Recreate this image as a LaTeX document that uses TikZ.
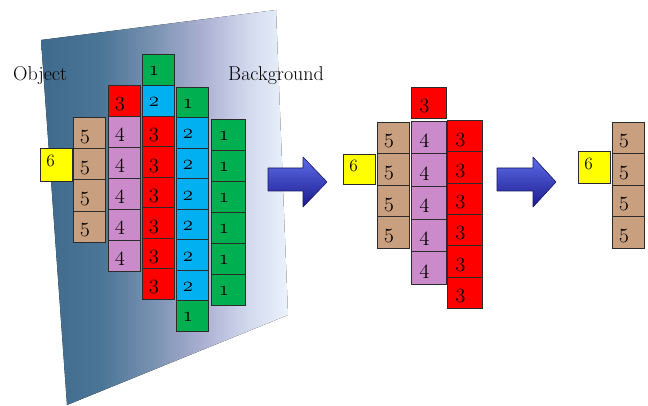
\documentclass[tikz,border=0pt]{standalone}
\usetikzlibrary{shadings}

% cell fills
\definecolor{cbrown}{HTML}{C9A07F}
\definecolor{cpurple}{HTML}{CB8BCB}
\definecolor{cred}{HTML}{FF0000}
\definecolor{cblue}{HTML}{00B0F0}
\definecolor{cgreen}{HTML}{00B050}
\definecolor{cyellow}{HTML}{FFFF00}
\definecolor{cedge}{HTML}{2B2B2B}
% plane gradient
\definecolor{pA}{HTML}{3F6A8C}
\definecolor{pB}{HTML}{4A7596}
\definecolor{pC}{HTML}{7690AF}
\definecolor{pD}{HTML}{A8ADCF}
\definecolor{pE}{HTML}{D2D9EE}
\definecolor{pF}{HTML}{EAF3FB}
% arrow colours
\definecolor{aTop}{HTML}{5E6CEA}
\definecolor{aMid}{HTML}{2F2FCF}
\definecolor{aBot}{HTML}{1A1A8C}
\definecolor{aEdge}{HTML}{181868}

\pgfdeclarehorizontalshading{planeshade}{100bp}{%
  color(0bp)=(pA); color(25bp)=(pA); color(37bp)=(pB);
  color(47bp)=(pC); color(57bp)=(pD); color(67bp)=(pE);
  color(75bp)=(pF); color(100bp)=(pF)}

% old-style digits for the cell numbers
\newcommand\cellfont{\fontsize{19.5}{20}\usefont{OML}{lmm}{m}{it}}
\newcommand\smallcellfont{\fontsize{18}{19}\usefont{OML}{lmm}{m}{it}}
\newcommand\cn[1]{\makebox[19pt][l]{\cellfont #1}}
\newcommand\cns[1]{\makebox[20pt][l]{\smallcellfont #1}}

\tikzset{
  cell/.style={draw=cedge, line width=0.9pt, inner sep=0pt,
    minimum width=32pt, minimum height=31pt,
    text height=12pt, text depth=0pt, anchor=north west},
  cone/.style={cell, fill=cgreen},
  ctwo/.style={cell, fill=cblue},
  cthree/.style={cell, fill=cred},
  cfour/.style={cell, fill=cpurple},
  cfive/.style={cell, fill=cbrown},
  csix/.style={cell, fill=cyellow, text height=3.6pt},
  lbl/.style={anchor=base west, inner sep=0pt, font=\fontsize{20}{24}\selectfont},
  fatarrow/.style={draw=aEdge, line width=0.6pt, top color=aTop,
    middle color=aMid, bottom color=aBot, line join=round}
}

\begin{document}
\begin{tikzpicture}[x=1pt, y=-1pt]
\useasboundingbox (0,0) rectangle (648,406);

% tilted plane separating object from background
\fill[shading=planeshade] (41,40) -- (276,10) -- (288,315) -- (67,405) -- cycle;

\node[lbl] (objlabel) at (13,81) {Object};
\node[lbl] (bglabel) at (228,81) {Background};

% ---------- full distance map ----------
\node[csix, minimum height=33pt] (a6) at (40,148) {\cns{6}};
\foreach \i in {0,...,3}
  \node[cfive, minimum height=31.2pt] (a5-\i) at (73,117+31.2*\i) {\cn{5}};
\node[cthree] (a3top) at (108,85) {\cn{3}};
\foreach \i in {0,...,4}
  \node[cfour] (a4-\i) at (108,116+31*\i) {\cn{4}};
\node[cone] (a1top) at (142,54) {\cn{1}};
\node[ctwo] (a2top) at (142,85) {\cn{2}};
\foreach \i in {0,...,5}
  \node[cthree] (a3-\i) at (142,116+30.4*\i) {\cn{3}};
\node[cone] (a1b) at (176,87) {\cn{1}};
\foreach \i in {0,...,5}
  \node[ctwo] (a2-\i) at (176,117+30.6*\i) {\cn{2}};
\node[cone] (a1bot) at (176,300) {\cn{1}};
\foreach \i in {0,...,5}
  \node[cone, minimum width=34pt] (a1-\i) at (211,119+31*\i) {\cn{1}};

% ---------- first arrow ----------
\draw[fatarrow] (268,168) -- (303,168) -- (303,157) -- (327,182)
  -- (303,207) -- (303,191) -- (268,191) -- cycle;

% ---------- after removing the outer layers ----------
\node[csix, minimum height=30pt] (b6) at (343,154) {\cns{6}};
\foreach \i in {0,...,3}
  \node[cfive, minimum height=31.6pt] (b5-\i) at (377,121.7+31.6*\i) {\cn{5}};
\node[cthree, minimum width=35pt] (b3top) at (411,87) {\cn{3}};
\foreach \i in {0,...,4}
  \node[cfour, minimum width=35pt, minimum height=32.7pt] (b4-\i) at (411,120.7+32.7*\i) {\cn{4}};
\foreach \i in {0,...,5}
  \node[cthree, minimum width=35pt, minimum height=31.3pt] (b3-\i) at (447,120+31.3*\i) {\cn{3}};

% ---------- second arrow ----------
\draw[fatarrow] (497,168) -- (533,168) -- (533,157) -- (556,182)
  -- (533,207) -- (533,191) -- (497,191) -- cycle;

% ---------- skeleton ----------
\node[csix, minimum height=32pt] (c6) at (578,151) {\cns{6}};
\foreach \i in {0,...,3}
  \node[cfive, minimum height=31.5pt] (c5-\i) at (612,121.7+31.5*\i) {\cn{5}};

\end{tikzpicture}
\end{document}
